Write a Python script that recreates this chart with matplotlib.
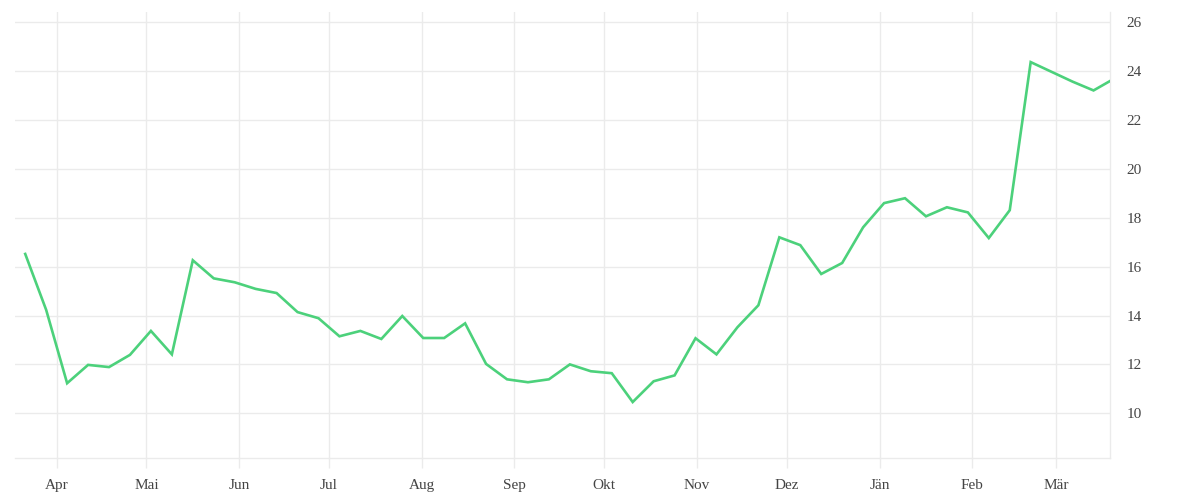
import matplotlib
matplotlib.use("Agg")
import matplotlib.pyplot as plt
import numpy as np
import pandas as pd

# weekly values
start_date = "2022-03-21 12:00"
values = [
    16.52, 14.23, 11.23, 11.98, 11.89, 12.39, 13.37, 12.41, 16.26, 15.52,
    15.36, 15.09, 14.92, 14.14, 13.89, 13.15, 13.37, 13.04, 13.98, 13.08,
    13.08, 13.68, 12.02, 11.39, 11.27, 11.39, 12.00, 11.72, 11.64, 10.46,
    11.31, 11.55, 13.07, 12.41, 13.52, 14.42, 17.20, 16.88, 15.70, 16.15,
    17.61, 18.60, 18.80, 18.06, 18.43, 18.22, 17.17, 18.31, 24.37, 23.97,
    23.57, 23.21, 23.70,
]
dates = pd.date_range(start_date, periods=len(values), freq="7D")

month_labels = ["Apr", "Mai", "Jun", "Jul", "Aug", "Sep", "Okt", "Nov",
                "Dez", "Jän", "Feb", "Mär"]
month_ticks = pd.date_range("2022-04-01", periods=12, freq="MS")
y_ticks = [10, 12, 14, 16, 18, 20, 22, 24, 26]

grid_col = "#ebebeb"
text_col = "#444444"
line_col = "#4cd17b"

plt.rcParams["font.family"] = ["Liberation Serif", "DejaVu Serif"]

fig = plt.figure(figsize=(12, 5), dpi=100)
ax = fig.add_axes([0.0125, 0.084, 0.9125, 0.892])

ax.plot(dates, values, color=line_col, lw=1.9, solid_joinstyle="miter", zorder=3)

ax.set_xlim(pd.Timestamp("2022-03-18 02:00"), pd.Timestamp("2023-03-19 00:00"))
ax.set_ylim(8.17, 26.42)

ax.set_xticks(month_ticks)
ax.set_xticklabels(month_labels)
ax.set_yticks(y_ticks)
ax.set_yticklabels([str(t) for t in y_ticks])

ax.yaxis.tick_right()
ax.grid(True, color=grid_col, lw=1)
ax.set_axisbelow(True)

for side in ["top", "left"]:
    ax.spines[side].set_visible(False)
for side in ["bottom", "right"]:
    ax.spines[side].set_color(grid_col)
    ax.spines[side].set_linewidth(1)

ax.tick_params(axis="x", length=7, width=1, color=grid_col, pad=8,
               labelsize=11, labelcolor=text_col)
ax.tick_params(axis="y", length=0, pad=12, labelsize=11, labelcolor=text_col)

fig.savefig("out.png", dpi=100)
